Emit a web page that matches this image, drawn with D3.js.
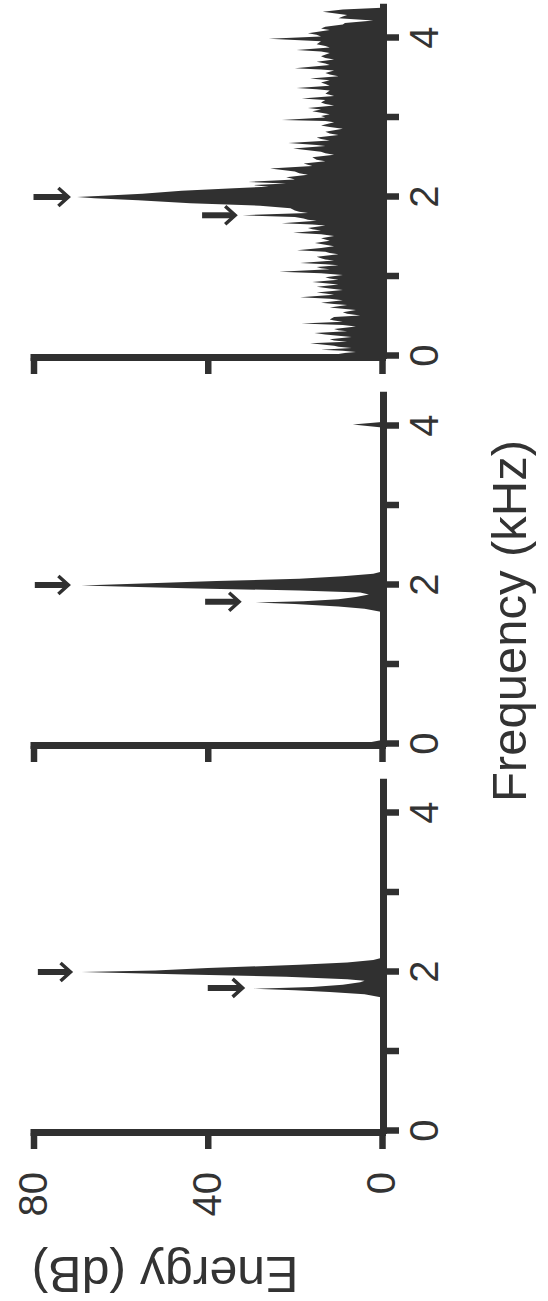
<!DOCTYPE html>
<html>
<head>
<meta charset="utf-8">
<script src="https://cdn.jsdelivr.net/npm/d3@7"></script>
<style>
  html, body { margin: 0; padding: 0; background: #fff; }
  svg { display: block; }
  text { font-family: "Liberation Sans", Arial, sans-serif; fill: #333; }
</style>
</head>
<body>
<script>
// spectra: frequency (kHz) / energy (dB)
var panel1Freq = [0, 1.68, 1.72, 1.75, 1.77, 1.79, 1.81, 1.84, 1.87, 1.89, 1.91, 1.94, 1.97, 2.00, 2.02, 2.05, 2.09, 2.12, 2.15, 2.18, 4.38];
var panel1Db   = [0, 0, 4, 12, 20, 29.6, 16, 9, 5, 4, 8, 22, 45, 69, 52, 40, 19, 8, 2, 0, 0];

var panel2Freq = [0, 0.02, 0.05, 1.66, 1.70, 1.73, 1.76, 1.78, 1.795, 1.82, 1.85, 1.88, 1.905, 1.93, 1.96, 1.994, 2.02, 2.05, 2.08, 2.11, 2.14, 2.17, 3.98, 4.02, 4.05, 4.38];
var panel2Db   = [0, 3, 0, 0, 4, 10, 20, 29, 18, 10, 6, 3, 5, 19, 45, 69, 55, 38, 19, 9, 2, 0, 0, 6.7, 0, 0];

var panel3Freq = [0.00, 0.015, 0.03, 0.05, 0.065, 0.08, 0.10, 0.115, 0.13, 0.16, 0.18, 0.195, 0.21, 0.24, 0.255, 0.27, 0.29, 0.31, 0.325, 0.34,
                  0.37, 0.39, 0.41, 0.43, 0.445, 0.46, 0.49, 0.51, 0.53, 0.55, 0.58, 0.595, 0.61, 0.64, 0.655, 0.67, 0.70, 0.72, 0.74, 0.77,
                  0.785, 0.80, 0.83, 0.85, 0.87, 0.90, 0.915, 0.93, 0.96, 0.975, 0.99, 1.02, 1.04, 1.06, 1.09, 1.105, 1.12, 1.14, 1.155, 1.17,
                  1.20, 1.215, 1.23, 1.25, 1.28, 1.295, 1.31, 1.33, 1.36, 1.38, 1.40, 1.42, 1.45, 1.465, 1.48, 1.51, 1.53, 1.55, 1.58, 1.595,
                  1.61, 1.64, 1.655, 1.67, 1.70, 1.715, 1.73, 1.75, 1.77, 1.80, 1.815, 1.83, 1.86, 1.89, 1.92, 1.96, 1.985, 2.00, 2.015, 2.04,
                  2.08, 2.11, 2.13, 2.15, 2.17, 2.19, 2.22, 2.235, 2.25, 2.28, 2.30, 2.32, 2.36, 2.39, 2.405, 2.42, 2.45, 2.47, 2.50, 2.53,
                  2.55, 2.57, 2.61, 2.64, 2.655, 2.68, 2.71, 2.73, 2.75, 2.78, 2.80, 2.82, 2.86, 2.88, 2.90, 2.94, 2.955, 2.97, 3.00, 3.02,
                  3.04, 3.08, 3.10, 3.12, 3.15, 3.17, 3.19, 3.22, 3.24, 3.27, 3.285, 3.30, 3.34, 3.355, 3.37, 3.40, 3.42, 3.44, 3.47, 3.49,
                  3.52, 3.54, 3.56, 3.59, 3.605, 3.62, 3.66, 3.68, 3.70, 3.73, 3.75, 3.77, 3.81, 3.83, 3.85, 3.88, 3.90, 3.92, 3.96, 3.99,
                  4.02, 4.04, 4.06, 4.10, 4.12, 4.14, 4.17, 4.19, 4.22, 4.25, 4.27, 4.29, 4.33, 4.36, 4.38];
var panel3Db   = [3, 6, 10, 6, 9, 14, 7, 10, 11, 16.5, 8, 11, 12, 7, 10, 13, 15.5, 8, 10, 11,
                  6, 9, 18.5, 9, 11, 12, 11, 5, 8, 9, 6, 9, 12, 8, 11, 14, 9, 12, 18.8, 11,
                  13, 15, 9, 12, 15, 10, 13, 16, 10, 12, 13, 9, 14, 23.6, 12, 14, 15, 10, 13, 18.8,
                  11, 13, 14, 15, 10, 12, 13, 19.5, 14, 11, 13, 15.4, 12, 13, 14, 11, 14, 20.4, 14, 16,
                  17, 13, 16, 23, 15, 17, 18, 20, 32, 17, 19, 20, 21, 28, 44, 56, 66, 70, 64, 55,
                  46, 34, 26, 29.6, 22, 30.7, 20, 21, 22, 17, 19, 20, 25.7, 16, 17, 18, 13, 15, 16, 11,
                  13, 14, 20.4, 13, 15, 21.5, 12, 14, 15, 10, 12, 13, 9, 12, 14, 11, 13, 23, 13, 14,
                  12, 16, 14, 17, 11, 13, 14, 13, 18.4, 11, 12, 13, 12, 15, 19.6, 12, 13, 14, 12, 16.5,
                  10, 12, 13, 11, 14, 20, 12, 13, 15, 11, 13, 14, 12, 14, 19.6, 12, 13, 15, 14, 26,
                  14, 15, 17, 12, 14, 13, 9, 8.5, 2, 10, 9, 8, 13.6, 9, 0];

// arrows: [frequency, tip dB, tail dB]
var panel1Arrows = [[2.00, 71.5, 79], [1.80, 32, 40]];
var panel2Arrows = [[2.00, 72, 79.7], [1.79, 32.8, 40.6]];
var panel3Arrows = [[2.00, 72, 80], [1.77, 33.7, 41.3]];

var freqTicks = [0, 1, 2, 3, 4];
var freqTickLabels = ['0', '', '2', '', '4'];
var dbTicks = [0, 40, 80];

var W = 1301, H = 548;   // figure drawn landscape, then turned a quarter to the left
var panelLeft = [170, 557, 945];
var pxPerKHz = 79.5;
var freqMax = 4.38;
var ink = '#303030';

var svg = d3.select('body').append('svg')
  .attr('width', H)
  .attr('height', W);

var root = svg.append('g')
  .attr('transform', 'translate(0,' + W + ') rotate(-90)');

var y = d3.scaleLinear().domain([0, 80]).range([382, 33.5]);

function zip(fs, ds) {
  return fs.map(function(f, i) { return [f, ds[i]]; });
}

function drawPanel(index, freqs, dbs, arrows) {
  var left = panelLeft[index];
  var x = d3.scaleLinear().domain([0, freqMax]).range([left, left + freqMax * pxPerKHz]);
  var g = root.append('g').classed('panel', true);

  var area = d3.area()
    .x(function(d) { return x(d[0]); })
    .y0(y(0))
    .y1(function(d) { return y(d[1]); });

  g.append('path')
    .datum(zip(freqs, dbs))
    .attr('d', area)
    .attr('fill', ink);

  // arrows pointing at the two peaks
  arrows.forEach(function(a) {
    var ax = x(a[0]), tip = y(a[1]), tail = y(a[2]);
    g.append('line')
      .attr('x1', ax).attr('x2', ax)
      .attr('y1', tail).attr('y2', tip - 2)
      .attr('stroke', ink).attr('stroke-width', 6);
    g.append('path')
      .attr('d', 'M' + (ax - 9) + ',' + (tip - 10) + 'L' + ax + ',' + tip + 'L' + (ax + 9) + ',' + (tip - 10))
      .attr('fill', 'none').attr('stroke', ink).attr('stroke-width', 3.5);
  });

  var xAxis = d3.axisBottom(x)
    .tickValues(freqTicks)
    .tickSize(16)
    .tickSizeOuter(0)
    .tickPadding(11)
    .tickFormat(function(d, i) { return freqTickLabels[i]; });

  var gx = g.append('g')
    .attr('transform', 'translate(0,383)')
    .call(xAxis);

  var yAxis = d3.axisLeft(y)
    .tickValues(dbTicks)
    .tickSize(16)
    .tickSizeOuter(0)
    .tickPadding(23)
    .tickFormat(index === 0 ? d3.format('d') : function() { return ''; });

  var gy = g.append('g')
    .attr('transform', 'translate(' + (left - 2) + ',0)')
    .call(yAxis);

  [gx, gy].forEach(function(ax) {
    ax.select('.domain').attr('stroke', ink).attr('stroke-width', 7).attr('stroke-linecap', 'square');
    ax.selectAll('.tick line').attr('stroke', ink).attr('stroke-width', 6.5);
    ax.selectAll('.tick text').attr('font-size', 40).attr('fill', '#333')
      .attr('font-family', '"Liberation Sans", Arial, sans-serif');
  });
}

drawPanel(0, panel1Freq, panel1Db, panel1Arrows);
drawPanel(1, panel2Freq, panel2Db, panel2Arrows);
drawPanel(2, panel3Freq, panel3Db, panel3Arrows);

root.append('text')
  .attr('transform', 'translate(44,165) rotate(-90)')
  .attr('text-anchor', 'middle')
  .attr('font-size', 50)
  .text('Energy (dB)');

root.append('text')
  .attr('x', 680)
  .attr('y', 526)
  .attr('text-anchor', 'middle')
  .attr('font-size', 49)
  .text('Frequency (kHz)');
</script>
</body>
</html>
